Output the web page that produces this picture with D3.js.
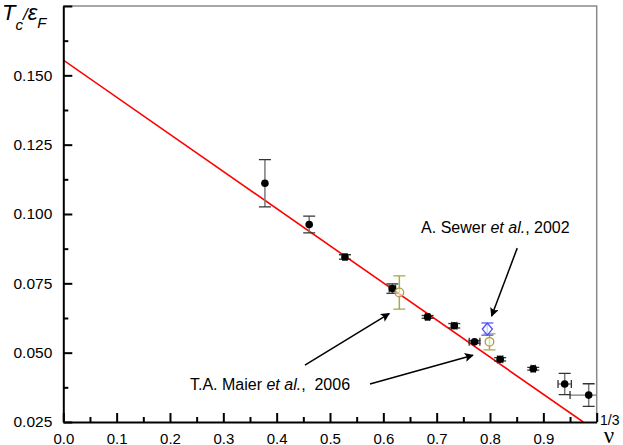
<!DOCTYPE html>
<html lang="en">
<head><meta charset="utf-8"><title>Tc/eF vs nu^(1/3)</title>
<style>
  body { margin: 0; background: #fff; }
  text { font-family: Arial, "Liberation Sans", sans-serif; }
</style>
</head>
<body>
<svg width="623" height="445"></svg>

<script src="https://cdn.jsdelivr.net/npm/d3@7"></script>
<script>
// QMC points: nu^(1/3), Tc/eF and their error bars
var nu3  = [0.378, 0.461, 0.528, 0.617, 0.683, 0.733, 0.771, 0.819, 0.881, 0.940, 0.985];
var tc   = [0.1111, 0.0962, 0.0845, 0.0731, 0.0629, 0.0597, 0.0539, 0.0476, 0.0442, 0.0387, 0.0347];
var tcErr = [0.0085, 0.0030, 0.0008, 0.0017, 0.0005, 0.0008, 0.0005, 0.0006, 0.0005, 0.0038, 0.0041];
var nuErr = [0, 0, 0.004, 0.006, 0.004, 0.005, 0.010, 0.005, 0.004, 0.0125, 0.035];

// other works
var maierNu  = [0.630, 0.799];
var maierTc  = [0.0717, 0.0539];
var maierErr = [0.0060, 0.0029];
var sewerNu  = [0.795];
var sewerTc  = [0.0585];
var sewerErr = [0.0022];

// linear fit Tc/eF = a + b * nu^(1/3)
var fitA = 0.1555, fitB = -0.1339;

var yTicks = [0.025, 0.050, 0.075, 0.100, 0.125, 0.150, 0.175];
var yMinor = [0.0375, 0.0625, 0.0875, 0.1125, 0.1375, 0.1625];
var xTicks = [0.0, 0.1, 0.2, 0.3, 0.4, 0.5, 0.6, 0.7, 0.8, 0.9, 1.0];
var xMinor = [0.05, 0.15, 0.25, 0.35, 0.45, 0.55, 0.65, 0.75, 0.85, 0.95];

var svg = d3.select("svg");
// note: "top" is taken by window.top, so use explicit names
var padL = 63.3, padR = 596.7, padT = 6, padB = 422;

var x = d3.scaleLinear().domain([0, 1]).range([padL, padR]);
var y = d3.scaleLinear().domain([0.025, 0.175]).range([padB, padT]);

// frame (top & right in grey)
svg.append("path")
    .attr("d", "M" + padL + "," + padT + "H" + padR + "V" + padB)
    .attr("fill", "none").attr("stroke", "#8a8a8a").attr("stroke-width", 1.5);

// fit line, clipped to plot area
svg.append("clipPath").attr("id", "clip").append("rect")
    .attr("x", padL).attr("y", padT).attr("width", padR - padL).attr("height", padB - padT);
var xEnd = (0.025 - fitA) / fitB;
svg.append("line")
    .attr("clip-path", "url(#clip)")
    .attr("x1", x(0)).attr("y1", y(fitA))
    .attr("x2", x(xEnd)).attr("y2", y(fitA + fitB * xEnd))
    .attr("stroke", "#ff0000").attr("stroke-width", 1.6);

// axes
function styleAxis(g, w) {
    g.attr("font-size", 15).attr("font-family", "Arial, 'Liberation Sans', sans-serif");
    g.select(".domain").attr("stroke", "#000").attr("stroke-width", 2);
    g.selectAll(".tick line").attr("stroke", "#000").attr("stroke-width", w);
    g.selectAll(".tick text").attr("fill", "#000");
}

var gy = svg.append("g").attr("transform", "translate(" + padL + ",0)")
    .call(d3.axisLeft(y).tickValues(yTicks).tickSize(-9).tickPadding(11)
        .tickSizeOuter(0)
        .tickFormat(function(d) { return d > 0.16 ? "" : d3.format(".3f")(d); }));
styleAxis(gy, 2);
gy.selectAll(".tick text").attr("font-size", 15.5);
var gym = svg.append("g").attr("transform", "translate(" + padL + ",0)")
    .call(d3.axisLeft(y).tickValues(yMinor).tickSize(-5).tickFormat(""));
gym.select(".domain").remove();
styleAxis(gym, 2);

var gx = svg.append("g").attr("transform", "translate(0," + padB + ")")
    .call(d3.axisBottom(x).tickValues(xTicks).tickSize(-9).tickPadding(11)
        .tickSizeOuter(0)
        .tickFormat(function(d) { return d > 0.95 ? "" : d3.format(".1f")(d); }));
styleAxis(gx, 2);
var gxm = svg.append("g").attr("transform", "translate(0," + padB + ")")
    .call(d3.axisBottom(x).tickValues(xMinor).tickSize(-5).tickFormat(""));
gxm.select(".domain").remove();
styleAxis(gxm, 2);

// error bars helper
function errorBars(xs, ys, ye, xe, lineColor, capColor, capW) {
    var g = svg.append("g").attr("clip-path", "url(#clip)");
    xs.forEach(function(v, i) {
        var cx = x(v), cy = y(ys[i]);
        var y0 = y(ys[i] - ye[i]), y1 = y(ys[i] + ye[i]);
        g.append("line").attr("x1", cx).attr("x2", cx).attr("y1", y0).attr("y2", y1)
            .attr("stroke", lineColor).attr("stroke-width", 1.5);
        [y0, y1].forEach(function(yy) {
            g.append("line").attr("x1", cx - capW).attr("x2", cx + capW).attr("y1", yy).attr("y2", yy)
                .attr("stroke", capColor).attr("stroke-width", 1.3);
        });
        if (xe && xe[i] > 0) {
            var x0 = x(v - xe[i]), x1 = x(v + xe[i]);
            g.append("line").attr("x1", x0).attr("x2", x1).attr("y1", cy).attr("y2", cy)
                .attr("stroke", lineColor).attr("stroke-width", 1.3);
            [x0, x1].forEach(function(xx) {
                g.append("line").attr("x1", xx).attr("x2", xx).attr("y1", cy - 4).attr("y2", cy + 4)
                    .attr("stroke", capColor).attr("stroke-width", 1.3);
            });
        }
    });
}

errorBars(nu3, tc, tcErr, nuErr, "#7a7a7a", "#333", 6);
svg.append("g").selectAll("circle").data(nu3).enter().append("circle")
    .attr("cx", function(d) { return x(d); })
    .attr("cy", function(d, i) { return y(tc[i]); })
    .attr("r", 3.8).attr("fill", "#000");

errorBars(maierNu, maierTc, maierErr, null, "#a8a850", "#a8a850", 6);
svg.append("g").selectAll("circle").data(maierNu).enter().append("circle")
    .attr("cx", function(d) { return x(d); })
    .attr("cy", function(d, i) { return y(maierTc[i]); })
    .attr("r", 4.3).attr("fill", "#fff").attr("fill-opacity", 0.6)
    .attr("stroke", "#a8a040").attr("stroke-width", 1.3);

errorBars(sewerNu, sewerTc, sewerErr, null, "#5a5aff", "#5a5aff", 6);
svg.append("g").selectAll("path").data(sewerNu).enter().append("path")
    .attr("d", function(d, i) {
        var cx = x(d), cy = y(sewerTc[i]);
        return "M" + cx + "," + (cy - 6) + "L" + (cx + 5) + "," + cy + "L" + cx + "," + (cy + 6) + "L" + (cx - 5) + "," + cy + "Z";
    })
    .attr("fill", "#fff").attr("fill-opacity", 0.7)
    .attr("stroke", "#4a4aff").attr("stroke-width", 1.3);

// annotations
var defs = svg.append("defs");
defs.append("marker").attr("id", "arrow").attr("viewBox", "0 0 10 10")
    .attr("refX", 9).attr("refY", 5).attr("markerWidth", 11).attr("markerHeight", 9)
    .attr("markerUnits", "userSpaceOnUse").attr("orient", "auto")
    .append("path").attr("d", "M0,0L10,5L0,10L2,5Z").attr("fill", "#000");

var arrows = [
    [0.851, 0.0877, 0.803, 0.0632],
    [0.453, 0.0455, 0.611, 0.0641],
    [0.575, 0.0387, 0.768, 0.0491]
];
svg.append("g").selectAll("line").data(arrows).enter().append("line")
    .attr("x1", function(d) { return x(d[0]); }).attr("y1", function(d) { return y(d[1]); })
    .attr("x2", function(d) { return x(d[2]); }).attr("y2", function(d) { return y(d[3]); })
    .attr("stroke", "#000").attr("stroke-width", 1.5).attr("marker-end", "url(#arrow)");

var t1 = svg.append("text").attr("x", x(0.810)).attr("y", y(0.0930))
    .attr("text-anchor", "middle").attr("font-size", 16).style("white-space", "pre");
t1.append("tspan").text("A. Sewer ");
t1.append("tspan").attr("font-style", "italic").text("et al.");
t1.append("tspan").text(", 2002");

var t2 = svg.append("text").attr("x", x(0.2375)).attr("y", y(0.0365))
    .attr("font-size", 16).style("white-space", "pre");
t2.append("tspan").text("T.A. Maier ");
t2.append("tspan").attr("font-style", "italic").text("et al.");
t2.append("tspan").text(",  2006");

// axis titles
var yt = svg.append("text").attr("x", 2).attr("y", 20).attr("font-size", 22).attr("font-style", "italic");
yt.append("tspan").text("T");
yt.append("tspan").attr("font-size", 15).attr("dy", 10).text("c");
yt.append("tspan").attr("font-size", 17).attr("dy", -10).text("/");
yt.append("tspan").text("\u03b5");
yt.append("tspan").attr("font-size", 15).attr("dy", 8).text("F");

svg.append("text").attr("x", 609).attr("y", 443).attr("text-anchor", "middle")
    .attr("font-size", 23).style("font-family", "'Liberation Serif', serif").text("\u03bd");
svg.append("text").attr("x", 600).attr("y", 425).attr("font-size", 14).text("1/3");
</script>
</body>
</html>
